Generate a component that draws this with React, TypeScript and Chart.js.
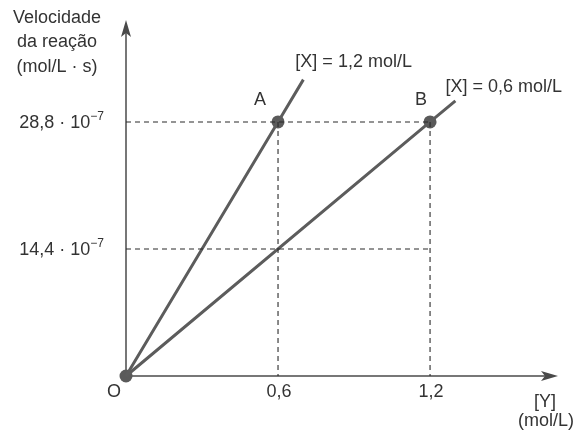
import React, { useEffect, useRef } from "react";
import { Chart, registerables } from "chart.js";

Chart.register(...registerables);

// ---- data ----
const seriesLabels = ["[X] = 1,2 mol/L", "[X] = 0,6 mol/L"];
const lineAX = [0, 0.6, 0.7];
const lineAY = [0, 28.8, 33.6];
const lineBX = [0, 1.2, 1.3];
const lineBY = [0, 28.8, 31.2];

const pointLabels = ["O", "A", "B"];
const pointX = [0, 0.6, 1.2];
const pointY = [0, 28.8, 28.8];

const xTickValues = [0.6, 1.2];
const xTickLabels = ["0,6", "1,2"];
const yTickValues = [14.4, 28.8];
const yTickMantissas = ["14,4 · 10", "28,8 · 10"];
const yTickExponent = "−7";

const yTitleLines = ["Velocidade", "da reação", "(mol/L · s)"];
const xTitleLines = ["[Y]", "(mol/L)"];

// guide lines (dashed): horizontal at each y tick up to x = 1.2, vertical from points down
const guideHX = [0, 1.2];

const X_MAX = 1.705;
const Y_MAX = 40.36;

const FONT = "'Liberation Sans', Arial, Helvetica, sans-serif";
const TEXT = "#333333";
const LINE = "#5c5c5c";
const AXIS = "#4a4a4a";

const toPts = (xs: number[], ys: number[]) => xs.map((x, i) => ({ x, y: ys[i] }));

const overlayPlugin = {
  id: "overlay",
  beforeDatasetsDraw(chart: any) {
    const { ctx, chartArea } = chart;
    const { left, right, top, bottom } = chartArea;
    ctx.save();
    ctx.strokeStyle = AXIS;
    ctx.fillStyle = AXIS;
    ctx.lineWidth = 1.5;
    // y axis
    ctx.beginPath();
    ctx.moveTo(left, bottom);
    ctx.lineTo(left, top + 10);
    ctx.stroke();
    ctx.beginPath();
    ctx.moveTo(left, top);
    ctx.lineTo(left - 5, top + 17);
    ctx.lineTo(left, top + 13);
    ctx.lineTo(left + 5, top + 17);
    ctx.closePath();
    ctx.fill();
    // x axis
    ctx.beginPath();
    ctx.moveTo(left, bottom);
    ctx.lineTo(right - 10, bottom);
    ctx.stroke();
    ctx.beginPath();
    ctx.moveTo(right, bottom);
    ctx.lineTo(right - 17, bottom - 5);
    ctx.lineTo(right - 13, bottom);
    ctx.lineTo(right - 17, bottom + 5);
    ctx.closePath();
    ctx.fill();
    ctx.restore();
  },
  afterDraw(chart: any) {
    const { ctx, scales } = chart;
    const xs = scales.x;
    const ys = scales.y;
    ctx.save();
    ctx.fillStyle = TEXT;
    ctx.textBaseline = "middle";
    ctx.font = `18px ${FONT}`;

    // y title
    ctx.textAlign = "center";
    yTitleLines.forEach((t, i) => ctx.fillText(t, 57, 18 + i * 24.5));

    // y ticks with superscript
    yTickValues.forEach((v, i) => {
      const py = ys.getPixelForValue(v);
      ctx.font = `18px ${FONT}`;
      const w1 = ctx.measureText(yTickMantissas[i]).width;
      ctx.font = `12px ${FONT}`;
      const w2 = ctx.measureText(yTickExponent).width;
      const xr = 104;
      const x0 = xr - w1 - w2;
      ctx.textAlign = "left";
      ctx.font = `18px ${FONT}`;
      ctx.fillText(yTickMantissas[i], x0, py + 1);
      ctx.font = `12px ${FONT}`;
      ctx.fillText(yTickExponent, x0 + w1, py - 5);
    });

    // x ticks
    ctx.font = `18px ${FONT}`;
    ctx.textAlign = "center";
    xTickValues.forEach((v, i) => {
      ctx.fillText(xTickLabels[i], xs.getPixelForValue(v) + 1, 392);
    });

    // point labels
    const labelOffsets = [
      [-12, 16],
      [-18, -22],
      [-9, -22],
    ];
    pointLabels.forEach((t, i) => {
      const px = xs.getPixelForValue(pointX[i]);
      const py = ys.getPixelForValue(pointY[i]);
      ctx.fillText(t, px + labelOffsets[i][0], py + labelOffsets[i][1]);
    });

    // series labels near line ends
    ctx.textAlign = "left";
    const endA = lineAX.length - 1;
    const endB = lineBX.length - 1;
    ctx.fillText(
      seriesLabels[0],
      xs.getPixelForValue(lineAX[endA]) - 8,
      ys.getPixelForValue(lineAY[endA]) - 18
    );
    ctx.fillText(
      seriesLabels[1],
      xs.getPixelForValue(lineBX[endB]) - 10,
      ys.getPixelForValue(lineBY[endB]) - 14
    );

    // x title
    ctx.textAlign = "center";
    ctx.fillText(xTitleLines[0], 545, 402);
    ctx.fillText(xTitleLines[1], 546, 421);

    ctx.restore();
  },
};

export default function App() {
  const ref = useRef<HTMLCanvasElement | null>(null);

  useEffect(() => {
    if (!ref.current) return;
    const dashed = {
      borderColor: "#2a2a2a",
      borderWidth: 1.1,
      borderDash: [5, 4],
      pointRadius: 0,
      fill: false,
      tension: 0,
    };
    const guides = [
      ...yTickValues.map((v) => ({
        ...dashed,
        data: guideHX.map((x) => ({ x, y: v })),
      })),
      ...pointX.slice(1).map((x, i) => ({
        ...dashed,
        data: [
          { x, y: pointY[i + 1] },
          { x, y: 0 },
        ],
      })),
    ];
    const chart = new Chart(ref.current, {
      type: "line",
      data: {
        datasets: [
          ...guides,
          {
            label: seriesLabels[0],
            data: toPts(lineAX, lineAY),
            borderColor: LINE,
            borderWidth: 3,
            pointRadius: 0,
            tension: 0,
            fill: false,
            clip: false,
          },
          {
            label: seriesLabels[1],
            data: toPts(lineBX, lineBY),
            borderColor: LINE,
            borderWidth: 3,
            pointRadius: 0,
            tension: 0,
            fill: false,
            clip: false,
          },
          {
            label: "points",
            data: toPts(pointX, pointY),
            showLine: false,
            pointRadius: 6.5,
            pointBackgroundColor: "#5a5a5a",
            pointBorderColor: "#5a5a5a",
            pointBorderWidth: 0,
            clip: false,
          },
        ] as any,
      },
      options: {
        responsive: false,
        maintainAspectRatio: false,
        animation: false,
        layout: { padding: { left: 126, right: 18, top: 20, bottom: 58 } },
        scales: {
          x: { type: "linear", min: 0, max: X_MAX, display: false },
          y: { type: "linear", min: 0, max: Y_MAX, display: false },
        },
        plugins: {
          legend: { display: false },
          tooltip: { enabled: false },
        },
        events: [],
      },
      plugins: [overlayPlugin],
    });
    return () => chart.destroy();
  }, []);

  return (
    <div
      style={{
        position: "absolute",
        left: 0,
        top: 0,
        width: 576,
        height: 434,
        background: "#ffffff",
      }}
    >
      <canvas ref={ref} width={576} height={434} style={{ display: "block" }} />
    </div>
  );
}
